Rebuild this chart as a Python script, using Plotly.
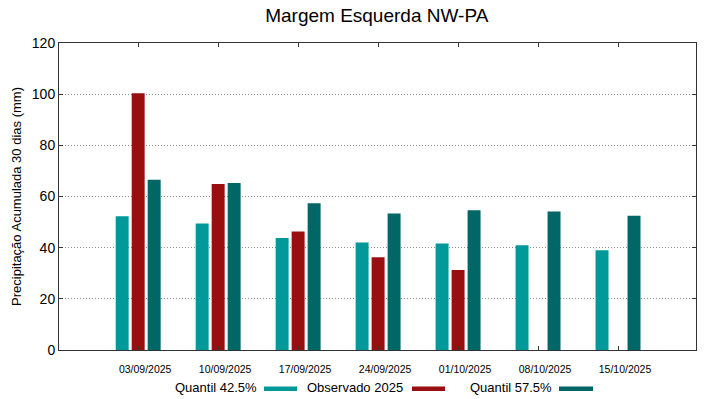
import plotly.graph_objects as go

categories = ["03/09/2025", "10/09/2025", "17/09/2025", "24/09/2025",
              "01/10/2025", "08/10/2025", "15/10/2025"]
q425 = [52.3, 49.4, 43.8, 42.0, 41.6, 40.9, 39.0]
obs2025 = [100.4, 64.9, 46.3, 36.3, 31.3, None, None]
q575 = [66.5, 65.3, 57.4, 53.4, 54.6, 54.1, 52.5]

series_names = ["Quantil 42.5%", "Observado 2025", "Quantil 57.5%"]
colors = ["#009999", "#990f0f", "#006666"]
y_ticks = [0, 20, 40, 60, 80, 100, 120]

FONT = "Liberation Sans, Arial, sans-serif"

fig = go.Figure()
for name, vals, col in zip(series_names, [q425, obs2025, q575], colors):
    fig.add_trace(go.Bar(x=categories, y=vals, name=name, marker_color=col,
                         marker_line_width=0, showlegend=False))

fig.update_layout(
    width=719, height=399,
    margin=dict(l=59, r=23, t=43, b=49, autoexpand=False),
    paper_bgcolor="white", plot_bgcolor="white",
    barmode="group", bargap=0.4, bargroupgap=0.19,
    font=dict(family=FONT, color="black"),
    title=dict(text="Margem Esquerda NW-PA", x=0.524, xanchor="center",
               y=0.962, yanchor="middle", font=dict(size=19, family=FONT)),
)
fig.update_xaxes(
    type="category", range=[-0.99, 6.975],
    showline=True, linecolor="#333333", linewidth=1, mirror="ticks",
    ticks="inside", ticklen=4, tickcolor="#333333",
    tickfont=dict(size=10.5, family=FONT), showgrid=False,
    ticklabelstandoff=9, ticklabelshift=7,
)
fig.update_yaxes(
    range=[0, 120], tickvals=y_ticks,
    showline=True, linecolor="#333333", linewidth=1, mirror="ticks",
    ticks="inside", ticklen=4, tickcolor="#333333",
    tickfont=dict(size=14, family=FONT),
    showgrid=True, gridcolor="#8c8c8c", griddash="1px,2px", gridwidth=1,
    zeroline=False,
    title=dict(text="Precipitação Acumulada 30 dias (mm)",
               font=dict(size=13, family=FONT), standoff=7),
)

# gnuplot-style legend: text followed by swatch
legend_pos = [(257, 264, 297), (403, 412, 445), (552, 559, 593)]
W, H = 719, 399
PW, PH = W - 59 - 23, H - 43 - 49
for (name, col), (tx, s0, s1) in zip(zip(series_names, colors), legend_pos):
    fig.add_annotation(text=name, xref="paper", yref="paper",
                       x=(tx - 59) / PW, y=-(387 - 350) / PH,
                       xanchor="right", yanchor="middle", showarrow=False,
                       xshift=2,
                       font=dict(size=13, family=FONT, color="black"))
    fig.add_shape(type="rect", xref="paper", yref="paper",
                  x0=(s0 - 59) / PW, x1=(s1 - 59) / PW,
                  y0=-(391 - 350) / PH, y1=-(386.5 - 350) / PH,
                  fillcolor=col, line_width=0)

fig.write_html("out.html", config={"displayModeBar": False},
               post_script="document.body.style.margin='0';document.body.style.overflow='hidden';")
